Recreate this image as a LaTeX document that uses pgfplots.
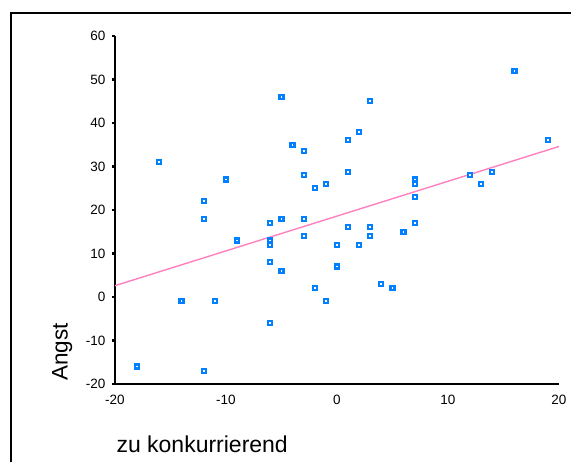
\documentclass[border=0pt]{standalone}
\usepackage{pgfplots}
\pgfplotsset{compat=1.18}
\usepackage{fontspec}
\setmainfont{Liberation Sans}
\definecolor{ptblue}{RGB}{0,128,255}
\definecolor{lnpink}{RGB}{255,128,192}
\begin{document}
\begin{tikzpicture}
\useasboundingbox (-115pt,-78pt) rectangle (456pt,384pt);
\draw[line width=1.1pt] (-104pt,-90pt) -- (-104pt,371pt) -- (470pt,371pt);
\begin{axis}[
  at={(0pt,0pt)}, anchor=south west,
  scale only axis, width=444pt, height=348pt,
  xmin=-20, xmax=20, ymin=-20, ymax=60,
  axis x line*=bottom, axis y line*=left,
  x axis line style={line width=1.1pt, -},
  y axis line style={line width=1.5pt, -},
  xtick={-20,-10,0,10,20},
  ytick={-20,-10,0,10,20,30,40,50,60},
  xtick style={draw=none},
  ytick style={line width=2.6pt, black},
  major tick length=3pt,
  tick align=outside,
  /pgf/number format/assume math mode=true,
  ticklabel style={font=\fontsize{13.5}{13.5}\selectfont},
  xticklabel style={yshift=-5pt},
  yticklabel style={xshift=-3pt},
  ylabel={Angst},
  ylabel style={at={(axis description cs:-0.119,0.092)}, anchor=center, font=\fontsize{22.5}{22.5}\selectfont},
  xlabel={zu konkurrierend},
  xlabel style={at={(axis description cs:0,0)}, anchor=base west, xshift=-2pt, yshift=-69pt, font=\fontsize{23}{23}\selectfont},
  clip=false,
]
\addplot[lnpink, line width=1.4pt, no marks] coordinates {(-20,2.6) (20,34.6)};
\addplot[only marks, mark=square*, mark size=2pt, mark options={draw=ptblue, fill=white, line width=2.2pt}] coordinates {
(-16,31) (-10,27) (-12,22) (-12,18) (-5,46) (-6,17) (-5,18) (-9,13) (-4,35)
(3,45) (16,52) (19,36) (-3,33.6) (2,38) (1,36) (-3,28) (-2,25) (-1,26)
(1,28.7) (7,27) (7,26) (7,23) (12,28) (13,26) (14,28.7) (-3,18) (1,16) (3,16)
(7,17) (-3,14) (3,14) (6,15) (-6,13) (-6,12) (-6,8) (-5,6) (-14,-1) (-11,-1)
(-6,-6) (-18,-16) (-12,-17) (0,12) (2,12) (0,7) (-2,2) (-1,-1) (4,3) (5,2)
};
\end{axis}
\end{tikzpicture}
\end{document}
